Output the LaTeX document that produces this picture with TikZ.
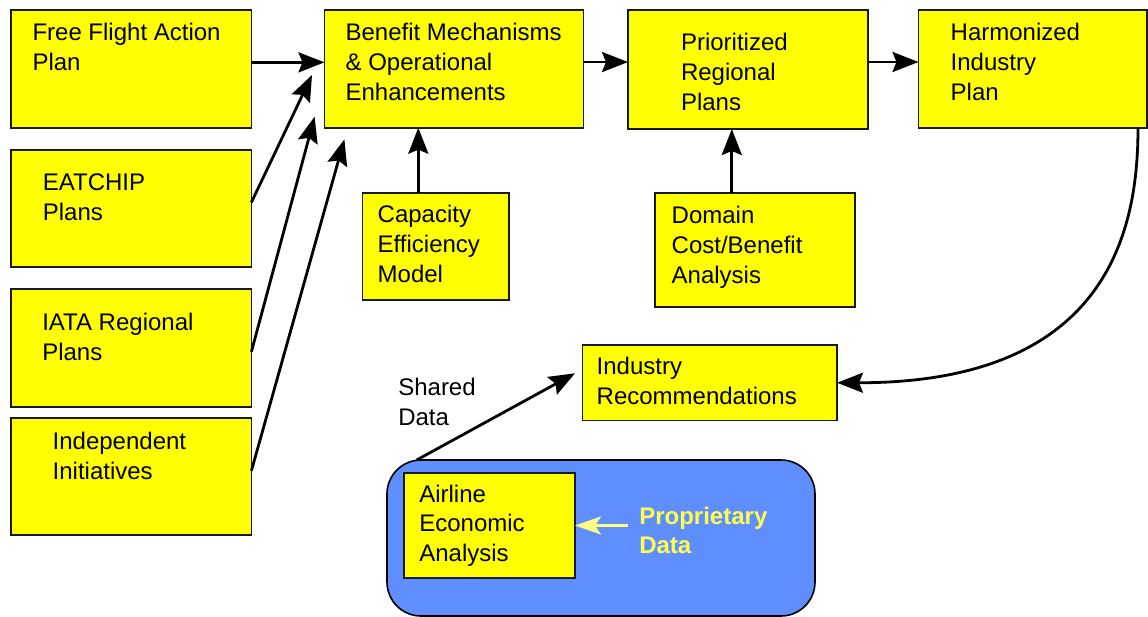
\documentclass[tikz,border=0pt]{standalone}
\usepackage{fontspec}
\setmainfont{Liberation Sans}
\usetikzlibrary{arrows.meta}
\definecolor{boxyellow}{RGB}{255,255,0}
\definecolor{poolblue}{RGB}{95,143,255}
\definecolor{proptext}{RGB}{255,255,77}
\definecolor{proparrow}{RGB}{255,255,128}

\begin{document}
\begin{tikzpicture}[x=1pt,y=-1pt,
  box/.style={draw=black!90, line width=1.8pt, fill=boxyellow, inner sep=0pt, outer sep=0pt, anchor=north west},
  lbl/.style={anchor=north west, inner sep=0pt, outer sep=0pt, align=left, font=\fontsize{24}{30}\selectfont},
  flow/.style={line width=2.8pt, -{Stealth[length=26pt,width=20pt,inset=4pt]}},
]
\useasboundingbox (0,0) rectangle (1148,617);

% airline pool (drawn first, sits under the airline box)
\node[draw=black, line width=1.6pt, fill=poolblue, rounded corners=34pt, inner sep=0pt, outer sep=0pt,
      anchor=north west, minimum width=428pt, minimum height=156pt] (pool) at (387,460) {};

% yellow boxes
\node[box, minimum width=240.7pt, minimum height=117.7pt] (ff)   at (10.7,10)    {};
\node[box, minimum width=259pt,   minimum height=117.7pt] (bm)   at (324.5,10)   {};
\node[box, minimum width=240pt,   minimum height=119pt]   (prp)  at (628,10)     {};
\node[box, minimum width=228.5pt, minimum height=117.7pt] (hip)  at (918.5,10)   {};
\node[box, minimum width=240.7pt, minimum height=116.7pt] (eat)  at (10.7,150)   {};
\node[box, minimum width=240.7pt, minimum height=117.7pt] (iata) at (10.7,289)   {};
\node[box, minimum width=240.7pt, minimum height=117.3pt] (ind)  at (10.7,417.7) {};
\node[box, minimum width=146.6pt, minimum height=106.7pt] (cem)  at (362.4,193.3) {};
\node[box, minimum width=200pt,   minimum height=114pt]   (dcb)  at (655.2,193.3) {};
\node[box, minimum width=254.5pt, minimum height=75.5pt]  (ir)   at (582.5,345)  {};
\node[box, minimum width=171pt,   minimum height=105pt]   (aea)  at (404,473)    {};

% box texts
\node[lbl] (fft)   at (32.5,23.3)  {Free Flight Action\\Plan};
\node[lbl] (bmt)   at (345.6,23.3) {Benefit Mechanisms\\\& Operational\\Enhancements};
\node[lbl] (prpt)  at (681,33.3)   {Prioritized\\Regional\\Plans};
\node[lbl] (hipt)  at (950.7,23.3) {Harmonized\\Industry\\Plan};
\node[lbl] (eatt)  at (42.9,173.3) {EATCHIP\\Plans};
\node[lbl] (iatat) at (42.3,313.3) {IATA Regional\\Plans};
\node[lbl] (indt)  at (52.7,431.7) {Independent\\Initiatives};
\node[lbl] (cemt)  at (377.7,205)  {Capacity\\Efficiency\\Model};
\node[lbl] (dcbt)  at (671.7,205.7) {Domain\\Cost/Benefit\\Analysis};
\node[lbl] (irt)   at (596.7,356.7) {Industry\\Recommendations};
\node[lbl, font=\fontsize{24}{29.5}\selectfont] (aeat) at (419.3,484.7) {Airline\\Economic\\Analysis};
\node[lbl] (shd)   at (398.3,378.3) {Shared\\Data};
\node[lbl, text=proptext, font=\fontsize{24}{29}\selectfont\bfseries] (ppd) at (639.3,506.7) {Proprietary\\Data};

% free ends of the converging inputs
\coordinate (tipA) at (312,75);
\coordinate (tipB) at (314.6,116.7);
\coordinate (tipC) at (344.4,139.3);
\coordinate (tipS) at (575,373.3);

% main flow
\draw[flow] ([yshift=6.5pt]ff.east) -- ([yshift=6.5pt]ff.east -| bm.west);
\draw[flow] ([yshift=6.8pt]bm.east) -- ([yshift=6.8pt]bm.east -| prp.west);
\draw[flow] ([yshift=7.5pt]prp.east) -- ([yshift=7.5pt]prp.east -| hip.west);
\draw[flow] ([xshift=-17.4pt]cem.north) -- ([xshift=-17.4pt]cem.north |- bm.south);
\draw[flow] ([xshift=-23.4pt]dcb.north) -- ([xshift=-23.4pt]dcb.north |- prp.south);

% regional inputs
\draw[flow] ([yshift=6pt]eat.east) -- (tipA);
\draw[flow] ([yshift=-3.9pt]iata.east) -- (tipB);
\draw[flow] ([yshift=5.6pt]ind.east) -- (tipC);

% plan back to recommendations
\draw[flow] ([xshift=-9pt]hip.south east) .. controls (1138,228) and (1110,383) .. (ir.east);

% shared and proprietary data
\draw[flow] ([xshift=29.7pt]pool.north west) -- (tipS);
\draw[draw=proparrow, line width=2.6pt, -{Stealth[length=26pt,width=18pt,inset=6pt]}]
  ([xshift=53pt]aea.east) -- (aea.east);
\end{tikzpicture}
\end{document}
